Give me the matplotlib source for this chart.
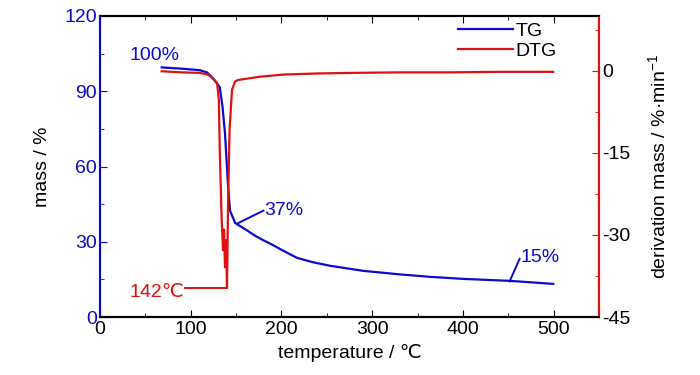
import matplotlib
matplotlib.use("Agg")
import matplotlib.pyplot as plt
from matplotlib.ticker import MultipleLocator
from matplotlib.lines import Line2D

plt.rcParams['font.family'] = ['Liberation Sans', 'DejaVu Sans']
plt.rcParams['axes.unicode_minus'] = False
plt.rcParams['mathtext.fontset'] = 'custom'
plt.rcParams['mathtext.rm'] = 'Liberation Sans'
plt.rcParams['mathtext.it'] = 'Liberation Sans'

# TG curve (mass %)
tg_T = [68, 90, 110, 118, 124.5, 132, 135, 137.8, 141, 143.3, 148.8, 151, 160, 171,
        180, 190, 200, 217, 235, 254, 290, 330, 364, 400, 452, 480, 499.5]
tg_m = [99.5, 99.0, 98.4, 97.5, 95.2, 91.6, 84, 73, 53, 42.4, 37.6, 37.0, 35.0, 32.4,
        30.6, 28.8, 26.8, 23.6, 21.8, 20.4, 18.4, 17.0, 16.0, 15.2, 14.4, 13.7, 13.2]

# DTG curve (%/min)
dtg_T = [68, 90, 110, 119, 123.5, 129, 131, 132, 134, 135.6, 136.7, 137.8, 138.9, 140,
         141.1, 142.8, 145.5, 148.8, 152, 160, 176, 202, 240, 276, 330, 386, 440, 499.5]
dtg_v = [-0.1, -0.3, -0.4, -0.7, -1.3, -2.2, -5.3, -14.5, -26.7, -32.8, -29.0, -35.9, -31.0, -39.7,
         -24.9, -10.8, -3.5, -2.0, -1.7, -1.5, -1.1, -0.7, -0.5, -0.4, -0.3, -0.3, -0.2, -0.2]

x_ticks = [0, 100, 200, 300, 400, 500]
left_ticks = [0, 30, 60, 90, 120]
right_ticks = [-45, -30, -15, 0]

BLUE = '#0a0ad0'
RED = '#e01010'
FS = 14

fig = plt.figure(figsize=(7, 3.75), dpi=100)
ax = fig.add_axes([100/700, 1-317/375, 499/700, 301/375])
ax2 = ax.twinx()

ax.plot(tg_T, tg_m, color=BLUE, lw=1.6, label='TG')
ax2.plot(dtg_T, dtg_v, color=RED, lw=1.6, label='DTG')

ax.set_xlim(0, 550)
ax.set_ylim(0, 120)
ax2.set_ylim(-45, 10)
ax.set_xticks(x_ticks)
ax.set_yticks(left_ticks)
ax2.set_yticks(right_ticks)
ax.xaxis.set_minor_locator(MultipleLocator(50))
ax.yaxis.set_minor_locator(MultipleLocator(15))
ax2.yaxis.set_minor_locator(MultipleLocator(7.5))

ax.tick_params(axis='x', which='both', direction='in', top=True, labelsize=FS, pad=3)
ax.tick_params(axis='x', which='major', length=5)
ax.tick_params(axis='x', which='minor', length=3)
ax.tick_params(axis='y', which='both', direction='in', colors=BLUE, labelsize=FS, pad=2)
ax.tick_params(axis='y', which='major', length=5)
ax.tick_params(axis='y', which='minor', length=3)
ax2.tick_params(axis='y', which='both', direction='in', colors=RED, labelsize=FS, pad=2)
ax2.tick_params(axis='y', which='major', length=5)
ax2.tick_params(axis='y', which='minor', length=3)
for lab in ax.get_yticklabels():
    lab.set_color(BLUE)
for lab in ax2.get_yticklabels():
    lab.set_color('black')

for a in (ax, ax2):
    a.spines['left'].set_color(BLUE)
    a.spines['right'].set_color(RED)
    a.spines['top'].set_color('black')
    a.spines['bottom'].set_color('black')
    for s in a.spines.values():
        s.set_linewidth(1.5)

ax.set_xlabel('temperature / ℃', fontsize=FS, labelpad=4)
ax.set_ylabel('mass / %', fontsize=FS, labelpad=10)
ax2.set_ylabel('derivation mass / %·min$^{-1}$', fontsize=FS, labelpad=12)

# annotations
ax.text(33, 104.4, '100%', color=BLUE, fontsize=FS, va='center', ha='left')
ax.plot([151, 180], [37.2, 42.4], color=BLUE, lw=1.4)
ax.text(181, 42.6, '37%', color=BLUE, fontsize=FS, va='center', ha='left')
ax.plot([451.5, 462.5], [14.2, 23.2], color=BLUE, lw=1.4)
ax.text(463, 23.8, '15%', color=BLUE, fontsize=FS, va='center', ha='left')
ax2.plot([93.6, 140], [-39.7, -39.7], color=RED, lw=1.4)
ax2.text(93, -40.6, '142℃', color=RED, fontsize=FS, va='center', ha='right')

handles = [Line2D([], [], color=BLUE, lw=1.6), Line2D([], [], color=RED, lw=1.6)]
ax.legend(handles, ['TG', 'DTG'], loc='upper left', bbox_to_anchor=(0.718, 0.98),
          frameon=False, fontsize=FS, handlelength=2.8, handletextpad=0.15,
          labelspacing=0.15, borderpad=0, borderaxespad=0)

fig.savefig('out.png', dpi=100)
